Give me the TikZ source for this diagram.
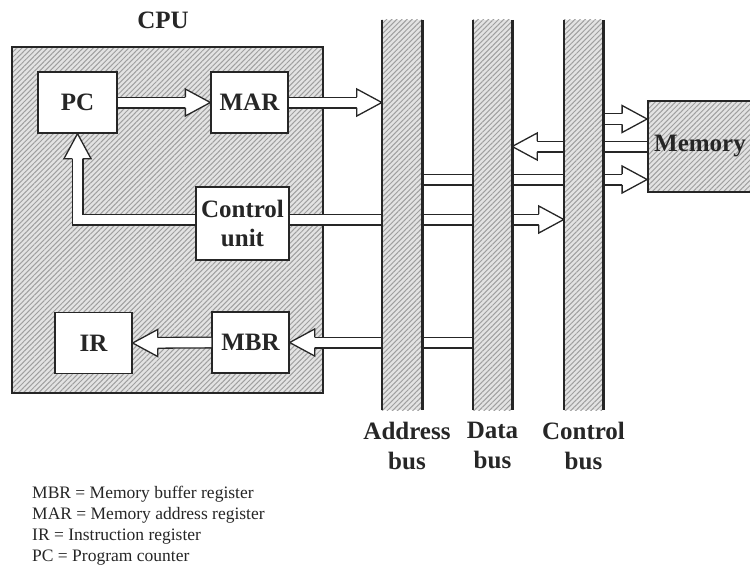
\documentclass[tikz,border=0pt]{standalone}
\usepackage{fontspec}
\setmainfont{Liberation Serif}
\usetikzlibrary{positioning,calc,patterns.meta}

\tikzset{
  hatch/.style={preaction={fill=gray!22}, pattern={Lines[angle=45,distance=3.6pt,line width=1pt]}, pattern color=gray!75},
  reg/.style={draw=black!85, line width=1.3pt, fill=white, font=\fontsize{25}{29}\selectfont\bfseries, text=black!85, align=center, inner sep=0pt},
  store/.style={draw=black!85, line width=1.8pt, hatch, font=\fontsize{25}{29}\selectfont\bfseries, text=black!85, inner sep=0pt},
  bar/.style={inner sep=0pt, minimum height=390pt},
  shaft/.style={draw=black!85, line width=1.3pt, double=white, double distance=9.4pt, shorten >=24.5pt},
  head/.style={draw=black!85, line width=1.3pt, fill=white},
  busedge/.style={draw=black!85, line width=2.6pt},
  title/.style={font=\fontsize{25}{30}\selectfont\bfseries, text=black!85, align=center, inner sep=0pt},
}

% hollow arrow head: tip, direction
\newcommand{\arrowhead}[2]{%
  \draw[head, shift={(#1)}, rotate=#2] (-25,5.35) -- (-25,13.5) -- (0,0) -- (-25,-13.5) -- (-25,-5.35);
}

\begin{document}
\begin{tikzpicture}[x=1pt,y=-1pt]
\useasboundingbox (0,0) rectangle (750,574);

% CPU and its registers
\node[draw=black!85, line width=2pt, hatch, minimum width=311pt, minimum height=346pt] (cpu) at (167.5,220) {};
\node[title] (cpuname) at (163,20) {CPU};
\node[reg, minimum width=79pt, minimum height=61pt] (pc) at (77.5,102.5) {PC};
\node[reg, minimum width=77pt, minimum height=61pt] (mar) at (249.5,102.5) {MAR};
\node[reg, minimum width=93pt, minimum height=73pt] (ctl) at (242.5,223.5) {Control\\unit};
\node[reg, minimum width=77pt, minimum height=61pt] (ir) at (93.5,343) {IR};
\node[reg, minimum width=77pt, minimum height=61pt] (mbr) at (250.5,342.5) {MBR};

% memory
\node[store, minimum width=104pt, minimum height=91pt] (mem) at (700,146.5) {Memory};

% buses (filled later, over the lines)
\node[bar, minimum width=40pt] (abus) at (402,215) {};
\node[bar, minimum width=39pt] (dbus) at (492.5,215) {};
\node[bar, minimum width=39pt] (cbus) at (583.5,215) {};

\coordinate (ctlL) at ([yshift=4pt]ctl.west);
\coordinate (ctlR) at ([yshift=4pt]ctl.east);
\coordinate (ctlhit) at (ctlR -| cbus.west);
\coordinate (marhit) at (mar.east -| abus.west);
\coordinate (mbrin) at (mbr.east -| dbus.west);
\coordinate (memA) at ([yshift=27.5pt]mem.west);
\coordinate (memD) at (mem.west);
\coordinate (memB) at ([yshift=-33pt]mem.west);
\coordinate (datahit) at (memD -| dbus.east);

% transfers
\draw[shaft] (pc.east) -- (mar.west); \arrowhead{mar.west}{0}
\draw[shaft] (mar.east) -- (marhit); \arrowhead{marhit}{0}
\draw[shaft] (ctlL) -| (pc.south); \arrowhead{pc.south}{90}
\draw[shaft] (ctlR) -- (ctlhit); \arrowhead{ctlhit}{0}
\draw[shaft] (mbrin) -- (mbr.east); \arrowhead{mbr.east}{180}
\draw[shaft] (mbr.west) -- (ir.east); \arrowhead{ir.east}{180}
\draw[shaft] (memA -| cbus.east) -- (memA); \arrowhead{memA}{0}
\draw[shaft] (memD) -- (datahit); \arrowhead{datahit}{180}
\draw[shaft] (memB -| abus.east) -- (memB); \arrowhead{memB}{0}

% bus bars over the lines
\foreach \b in {abus,dbus,cbus} {
  \fill[hatch] (\b.north west) rectangle (\b.south east);
  \draw[busedge] (\b.north west) -- (\b.south west) (\b.north east) -- (\b.south east);
}

\node[title, below=12pt of abus, xshift=5pt] (alabel) {Address\\bus};
\node[title, below=12pt of dbus] (dlabel) {Data\\bus};
\node[title, below=12pt of cbus] (clabel) {Control\\bus};

\node[anchor=north west, align=left, inner sep=0pt, text=black!85, font=\fontsize{17.5}{21}\selectfont] (legend) at (32,486)
  {MBR = Memory buffer register\\MAR = Memory address register\\IR = Instruction register\\PC = Program counter};
\end{tikzpicture}
\end{document}
